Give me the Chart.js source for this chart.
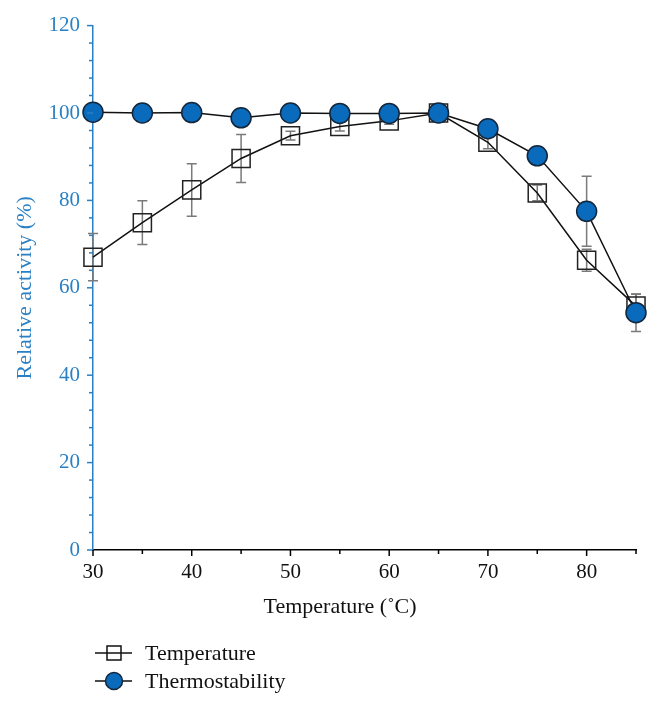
<!DOCTYPE html>
<html>
<head>
<meta charset="utf-8">
<script src="https://cdn.jsdelivr.net/npm/chart.js@4"></script>
<style>
html,body{margin:0;padding:0;background:#fff;}
#wrap{width:656px;height:705px;}
</style>
</head>
<body>
<div id="wrap"><canvas id="c" width="656" height="705"></canvas></div>
<script>
const temperatures = [30, 35, 40, 45, 50, 55, 60, 65, 70, 75, 80, 85];
const temperatureActivity = [67.0, 74.9, 82.4, 89.6, 94.8, 96.9, 98.2, 100.0, 93.3, 81.7, 66.3, 55.8];
const temperatureError = [5.4, 5.0, 6.0, 5.5, 1.0, 1.0, 0.8, 0.5, 1.5, 1.8, 2.5, 2.7];
const thermostability = [100.2, 100.0, 100.1, 98.9, 100.0, 99.9, 99.9, 100.0, 96.4, 90.2, 77.5, 54.3];
const thermostabilityError = [0, 0, 0, 0, 0, 0, 0, 0, 0.6, 0.6, 8.0, 4.3];
const yTickLabels = [0, 20, 40, 60, 80, 100, 120];
const xTickLabels = [30, 40, 50, 60, 70, 80];

const BLUE = '#2a80c4';
const FILL = '#0a6bbd';
const SERIF = '"Liberation Serif", "DejaVu Serif", serif';

const errorSets = [temperatureError, thermostabilityError];
const valueSets = [temperatureActivity, thermostability];

const errorBarPlugin = {
  id: 'errorBars',
  beforeDatasetsDraw(chart) {
    const {ctx, scales: {x, y}} = chart;
    ctx.save();
    ctx.strokeStyle = '#7a7a7a';
    ctx.lineWidth = 1.5;
    for (let s = 0; s < valueSets.length; s++) {
      const vals = valueSets[s], errs = errorSets[s];
      for (let i = 0; i < temperatures.length; i++) {
        if (!errs[i]) continue;
        const px = x.getPixelForValue(temperatures[i]);
        const top = y.getPixelForValue(vals[i] + errs[i]);
        const bot = y.getPixelForValue(vals[i] - errs[i]);
        ctx.beginPath();
        ctx.moveTo(px, top); ctx.lineTo(px, bot);
        ctx.moveTo(px - 5, top); ctx.lineTo(px + 5, top);
        ctx.moveTo(px - 5, bot); ctx.lineTo(px + 5, bot);
        ctx.stroke();
      }
    }
    ctx.restore();
  }
};

const axisTicksPlugin = {
  id: 'axisTicks',
  afterDraw(chart) {
    const {ctx, scales: {x, y}} = chart;
    ctx.save();
    ctx.lineWidth = 1.5;
    // y ticks (outward, left)
    ctx.strokeStyle = BLUE;
    const yl = y.right;
    for (let v = 0; v <= 120; v += 4) {
      const py = y.getPixelForValue(v);
      const len = (v % 20 === 0) ? 6 : 4;
      ctx.beginPath(); ctx.moveTo(yl - len, py); ctx.lineTo(yl, py); ctx.stroke();
    }
    // x ticks (outward, down)
    ctx.strokeStyle = '#000';
    const xb = x.top;
    for (let v = 30; v <= 85; v += 5) {
      const px = x.getPixelForValue(v);
      const len = (v % 10 === 0) ? 6 : 4;
      ctx.beginPath(); ctx.moveTo(px, xb); ctx.lineTo(px, xb + len); ctx.stroke();
    }
    // x axis title
    ctx.font = '22px ' + SERIF;
    ctx.textBaseline = 'middle';
    ctx.textAlign = 'center';
    ctx.fillStyle = '#111';
    ctx.fillText('Temperature (˚C)', 340, 607);
    // legend
    const items = [
      {label: 'Temperature', y: 653, type: 'rect'},
      {label: 'Thermostability', y: 681, type: 'circle'}
    ];
    ctx.textAlign = 'left';
    items.forEach(it => {
      ctx.strokeStyle = '#111';
      ctx.lineWidth = 1.5;
      ctx.beginPath(); ctx.moveTo(95, it.y); ctx.lineTo(132, it.y); ctx.stroke();
      if (it.type === 'rect') {
        ctx.strokeRect(107, it.y - 7, 14, 14);
      } else {
        ctx.beginPath(); ctx.arc(114, it.y, 8.5, 0, Math.PI * 2);
        ctx.fillStyle = FILL; ctx.fill();
        ctx.strokeStyle = '#13263a'; ctx.stroke();
      }
      ctx.fillStyle = '#111';
      ctx.fillText(it.label, 145, it.y + 1);
    });
    ctx.restore();
  }
};

new Chart(document.getElementById('c'), {
  type: 'line',
  data: {
    datasets: [
      {
        label: 'Thermostability',
        data: temperatures.map((t, i) => ({x: t, y: thermostability[i]})),
        borderColor: '#111',
        borderWidth: 1.5,
        pointStyle: 'circle',
        pointRadius: 10,
        pointBackgroundColor: FILL,
        pointBorderColor: '#13263a',
        pointBorderWidth: 1.5,
        tension: 0,
        fill: false,
        clip: false
      },
      {
        label: 'Temperature',
        data: temperatures.map((t, i) => ({x: t, y: temperatureActivity[i]})),
        borderColor: '#111',
        borderWidth: 1.5,
        pointStyle: 'rect',
        pointRadius: 12.8,
        pointBackgroundColor: 'rgba(0,0,0,0)',
        pointBorderColor: '#222',
        pointBorderWidth: 1.5,
        tension: 0,
        fill: false,
        clip: false
      }
    ]
  },
  options: {
    responsive: false,
    animation: false,
    events: [],
    layout: {padding: {left: 0, right: 20, top: 22, bottom: 0}},
    plugins: {legend: {display: false}, tooltip: {enabled: false}},
    scales: {
      x: {
        type: 'linear',
        min: 30, max: 85,
        grid: {display: false, drawTicks: false},
        border: {display: true, color: '#000', width: 1.5},
        afterFit(s) { s.height = 155; },
        afterBuildTicks(s) { s.ticks = xTickLabels.map(v => ({value: v})); },
        ticks: {
          color: '#111', padding: 10, maxRotation: 0, autoSkip: false,
          font: {family: SERIF, size: 21}
        },
        title: {display: false}
      },
      y: {
        min: 0, max: 120,
        grid: {display: false, drawTicks: false},
        border: {display: true, color: BLUE, width: 1.5},
        afterFit(s) { s.width = 93; },
        afterBuildTicks(s) { s.ticks = yTickLabels.map(v => ({value: v})); },
        ticks: {
          color: BLUE, padding: 13, autoSkip: false,
          font: {family: SERIF, size: 21}
        },
        title: {
          display: true, text: 'Relative activity (%)', color: BLUE,
          font: {family: SERIF, size: 22}, padding: {top: 12}
        }
      }
    }
  },
  plugins: [errorBarPlugin, axisTicksPlugin]
});
</script>
</body>
</html>
